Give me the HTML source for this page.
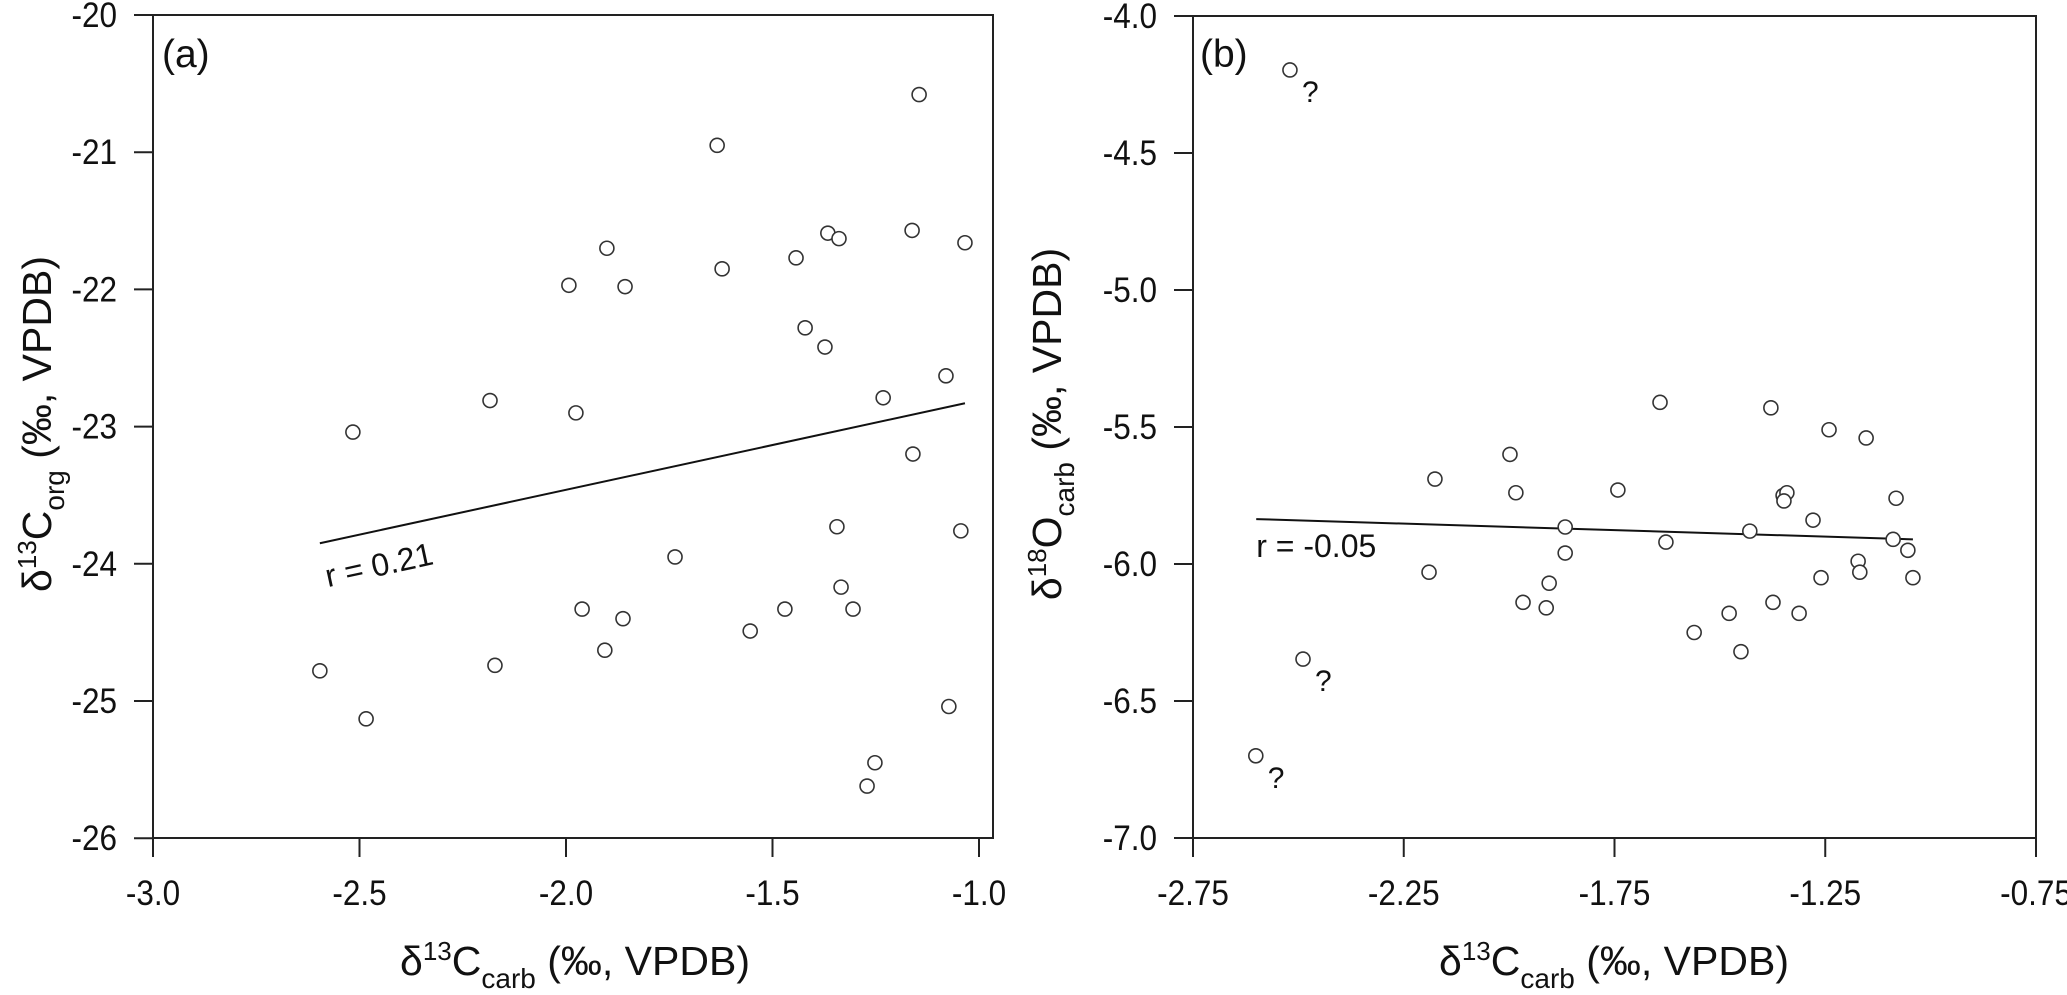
<!DOCTYPE html>
<html><head><meta charset="utf-8"><style>
html,body{margin:0;padding:0;background:#fff;}
svg{display:block;font-family:"Liberation Sans",sans-serif;}
</style></head><body>
<svg id="chart" width="2067" height="995" viewBox="0 0 2067 995"></svg>
<script>
const aX=[-1.145,-1.634,-1.901,-1.993,-1.857,-1.622,-1.443,-1.366,-1.339,-1.162,-1.034,-1.421,-1.373,-1.080,-1.232,-2.184,-1.976,-2.516,-1.160,-1.344,-1.044,-1.736,-1.334,-1.961,-1.862,-1.470,-1.305,-1.554,-1.906,-2.596,-2.172,-2.484,-1.073,-1.252,-1.271];
const aY=[-20.58,-20.95,-21.70,-21.97,-21.98,-21.85,-21.77,-21.59,-21.63,-21.57,-21.66,-22.28,-22.42,-22.63,-22.79,-22.81,-22.90,-23.04,-23.20,-23.73,-23.76,-23.95,-24.17,-24.33,-24.40,-24.33,-24.33,-24.49,-24.63,-24.78,-24.74,-25.13,-25.04,-25.45,-25.62];
const aFitX=[-2.596,-1.034];
const aFitY=[-23.85,-22.83];
const aXTicks=[-3.0,-2.5,-2.0,-1.5,-1.0];
const aXTickLabels=["-3.0","-2.5","-2.0","-1.5","-1.0"];
const aYTicks=[-20,-21,-22,-23,-24,-25,-26];
const aYTickLabels=["-20","-21","-22","-23","-24","-25","-26"];

const bX=[-2.520,-2.489,-2.601,-2.176,-2.190,-1.998,-1.984,-1.867,-1.867,-1.905,-1.967,-1.912,-1.742,-1.642,-1.379,-1.241,-1.153,-1.350,-1.341,-1.348,-1.082,-1.279,-1.429,-1.628,-1.089,-1.054,-1.172,-1.168,-1.042,-1.260,-1.374,-1.478,-1.312,-1.561,-1.450];
const bY=[-4.197,-6.347,-6.70,-5.69,-6.03,-5.60,-5.74,-5.865,-5.96,-6.07,-6.14,-6.16,-5.73,-5.41,-5.43,-5.51,-5.54,-5.75,-5.74,-5.77,-5.76,-5.84,-5.88,-5.92,-5.91,-5.95,-5.99,-6.03,-6.05,-6.05,-6.14,-6.18,-6.18,-6.25,-6.32];
const bQuery=[0,1,2];
const bFitX=[-2.60,-1.042];
const bFitY=[-5.836,-5.91];
const bXTicks=[-2.75,-2.25,-1.75,-1.25,-0.75];
const bXTickLabels=["-2.75","-2.25","-1.75","-1.25","-0.75"];
const bYTicks=[-4.0,-4.5,-5.0,-5.5,-6.0,-6.5,-7.0];
const bYTickLabels=["-4.0","-4.5","-5.0","-5.5","-6.0","-6.5","-7.0"];

const NS="http://www.w3.org/2000/svg";
const svg=document.getElementById('chart');
function mk(tag,attrs,parent,text){const e=document.createElementNS(NS,tag);for(const k in attrs)e.setAttribute(k,attrs[k]);if(text!==undefined)e.textContent=text;(parent||svg).appendChild(e);return e;}

function panel(cfg){
  const g=mk('g',{});
  
  
  const sx=v=>cfg.left+(v-cfg.x0)*cfg.kx;
  const sy=v=>cfg.top+(cfg.y0-v)*cfg.ky;
  const box=mk('rect',{x:cfg.left,y:cfg.top,width:cfg.right-cfg.left,height:cfg.bottom-cfg.top,fill:'none',stroke:'#222','stroke-width':2},g);
  
  
  cfg.xt.forEach((v,i)=>{
    const x=sx(v);
    const t=mk('line',{x1:x,x2:x,y1:cfg.bottom,y2:cfg.bottom+19,stroke:'#222','stroke-width':2},g);
    
    
    const l=mk('text',{'text-anchor':'middle','font-size':35,fill:'#111',transform:`translate(${x} ${cfg.bottom+67}) scale(0.9 1)`},g,cfg.xl[i]);
    
    
  });
  cfg.yt.forEach((v,i)=>{
    const y=sy(v);
    const t=mk('line',{x1:cfg.left-19,x2:cfg.left,y1:y,y2:y,stroke:'#222','stroke-width':2},g);
    
    
    const l=mk('text',{'text-anchor':'end','font-size':35,fill:'#111',transform:`translate(${cfg.left-36} ${y+12}) scale(0.9 1)`},g,cfg.yl[i]);
    
    
  });
  const fit=mk('line',{x1:sx(cfg.fx[0]),y1:sy(cfg.fy[0]),x2:sx(cfg.fx[1]),y2:sy(cfg.fy[1]),stroke:'#111','stroke-width':2},g);
  
  
  cfg.px.forEach((v,i)=>{
    const c=mk('circle',{cx:sx(v),cy:sy(cfg.py[i]),r:7,fill:'#fff',stroke:'#333','stroke-width':1.6},g);
    
    
  });
  (cfg.q||[]).forEach(i=>{
    const q=mk('text',{x:sx(cfg.px[i])+12,y:sy(cfg.py[i])+32,'font-size':30,fill:'#111'},g,'?');
    
    
  });
  return {sx,sy,g};
}

const A=panel({name:'panel-a',left:153,right:993,top:15,bottom:838,x0:-3,kx:413,y0:-20,ky:137.2,xt:aXTicks,xl:aXTickLabels,yt:aYTicks,yl:aYTickLabels,fx:aFitX,fy:aFitY,px:aX,py:aY});
const B=panel({name:'panel-b',left:1193,right:2036,top:16,bottom:838,x0:-2.75,kx:421.5,y0:-4,ky:274,xt:bXTicks,xl:bXTickLabels,yt:bYTicks,yl:bYTickLabels,fx:bFitX,fy:bFitY,px:bX,py:bY,q:bQuery});

const ang=Math.atan2(A.sy(aFitY[1])-A.sy(aFitY[0]),A.sx(aFitX[1])-A.sx(aFitX[0]))*180/Math.PI;
const ra=mk('text',{x:A.sx(aFitX[0])+8,y:A.sy(aFitY[0])+44,'font-size':32,fill:'#111',transform:`rotate(${ang} ${A.sx(aFitX[0])+8} ${A.sy(aFitY[0])+44})`},A.g,'r = 0.21');


const rb=mk('text',{x:B.sx(bFitX[0]),y:B.sy(bFitY[0])+38,'font-size':32,fill:'#111'},B.g,'r = -0.05');


</script>
<svg width="2067" height="995" style="position:absolute;left:0;top:0;pointer-events:none">
  <g font-family="Liberation Sans, sans-serif" fill="#111">
    <text x="162" y="67" font-size="39">(a)</text>
    <text x="1200" y="67" font-size="39">(b)</text>
    <text x="575" y="975" font-size="41" text-anchor="middle">δ<tspan font-size="26" dy="-15">13</tspan><tspan dy="15">C</tspan><tspan font-size="28" dy="13">carb</tspan><tspan dy="-13"> (‰, VPDB)</tspan></text>
    <text x="1614" y="975" font-size="41" text-anchor="middle">δ<tspan font-size="26" dy="-15">13</tspan><tspan dy="15">C</tspan><tspan font-size="28" dy="13">carb</tspan><tspan dy="-13"> (‰, VPDB)</tspan></text>
    <text x="0" y="0" font-size="41" text-anchor="middle" transform="translate(51 424) rotate(-90)">δ<tspan font-size="26" dy="-15">13</tspan><tspan dy="15">C</tspan><tspan font-size="28" dy="13">org</tspan><tspan dy="-13"> (‰, VPDB)</tspan></text>
    <text x="0" y="0" font-size="41" text-anchor="middle" transform="translate(1061 424) rotate(-90)">δ<tspan font-size="26" dy="-15">18</tspan><tspan dy="15">O</tspan><tspan font-size="28" dy="13">carb</tspan><tspan dy="-13"> (‰, VPDB)</tspan></text>
  </g>
</svg>
</body></html>
